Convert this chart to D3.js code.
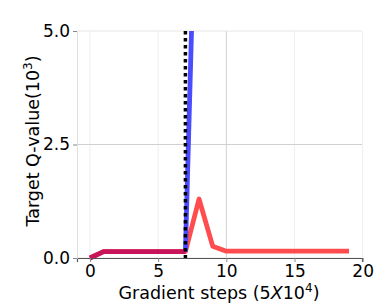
<!DOCTYPE html>
<html><head><meta charset="utf-8">
<script src="https://cdn.jsdelivr.net/npm/d3@7"></script>
<style>body{margin:0;background:#fff;}text{font-family:"DejaVu Sans",sans-serif;}</style>
</head><body><svg id="c" width="382" height="304"></svg>
<script>
const steps = d3.range(0, 20);
const redValues = [0, 0.14, 0.14, 0.14, 0.14, 0.14, 0.14, 0.14, 1.30, 0.26, 0.15, 0.15, 0.15, 0.15, 0.15, 0.15, 0.15, 0.15, 0.15, 0.15];
const blueSteps = [7, 8];
const blueValues = [0.14, 11];
const sharedSteps = [0, 1, 2, 3, 4, 5, 6, 7];
const sharedValues = [0, 0.14, 0.14, 0.14, 0.14, 0.14, 0.14, 0.14];
const divergeStep = 7;
const xTicks = [0, 5, 10, 15, 20];
const yTicks = [0, 2.5, 5];

const svg = d3.select("#c");
const L = 77, R = 362, T = 31, B = 258;
const x = d3.scaleLinear().domain([-0.95, 19.95]).range([L, R]);
const y = d3.scaleLinear().domain([0, 5]).range([B, T]);

// grid
const g = svg.append("g");
g.selectAll(".vx").data(xTicks).enter().append("line")
  .attr("x1", d => x(d)).attr("x2", d => x(d)).attr("y1", T).attr("y2", B)
  .attr("stroke", d => d === 10 ? "#d0d0d0" : "#efefef").attr("stroke-width", 1);
g.selectAll(".hy").data(yTicks).enter().append("line")
  .attr("x1", L).attr("x2", R).attr("y1", d => y(d)).attr("y2", d => y(d))
  .attr("stroke", d => d === 2.5 ? "#d0d0d0" : "#e6e6e6").attr("stroke-width", 1);

svg.append("defs").append("clipPath").attr("id", "clip")
  .append("rect").attr("x", L).attr("y", T).attr("width", R - L).attr("height", B - T + 4);
const plot = svg.append("g").attr("clip-path", "url(#clip)");

const line = d3.line().x(d => x(d[0])).y(d => y(d[1]));
plot.append("path").datum(steps.map((s, i) => [s, redValues[i]]))
  .attr("d", line).attr("fill", "none").attr("stroke", "#ff4d4f").attr("stroke-width", 4.8).attr("stroke-linejoin", "round");
plot.append("path").datum(blueSteps.map((s, i) => [s, blueValues[i]]))
  .attr("d", line).attr("fill", "none").attr("stroke", "#4b4bff").attr("stroke-width", 4.8);
plot.append("path").datum(sharedSteps.map((s, i) => [s, sharedValues[i]]))
  .attr("d", line).attr("fill", "none").attr("stroke", "#c8145a").attr("stroke-width", 4.8).attr("stroke-linejoin", "round");

svg.append("line").attr("x1", x(divergeStep)).attr("x2", x(divergeStep)).attr("y1", T).attr("y2", B + 3)
  .attr("stroke", "#000").attr("stroke-width", 3.5).attr("stroke-dasharray", "3.5,3.5");

// axes
const xa = svg.append("g").attr("transform", `translate(0,${B})`)
  .call(d3.axisBottom(x).tickValues(xTicks).tickSize(4).tickPadding(3).tickFormat(d3.format("d")));
const ya = svg.append("g").attr("transform", `translate(${L},0)`)
  .call(d3.axisLeft(y).tickValues(yTicks).tickSize(4).tickPadding(3).tickFormat(d3.format(".1f")));
[xa, ya].forEach(a => {
  a.selectAll("text").attr("font-size", 17).attr("fill", "#000").attr("font-family", "DejaVu Sans");
  a.selectAll(".tick line").attr("stroke", "#888");
});
xa.select(".domain").attr("stroke", "#555").attr("stroke-width", 1.2);
ya.select(".domain").attr("stroke", "#e0e0e0");

const xl = svg.append("text").attr("x", 219).attr("y", 299).attr("text-anchor", "middle").attr("font-size", 17.5);
xl.append("tspan").text("Gradient steps (5");
xl.append("tspan").attr("font-style", "italic").text("X");
xl.append("tspan").text("10");
xl.append("tspan").attr("dy", -7).attr("font-size", 12).text("4");
xl.append("tspan").attr("dy", 7).text(")");

const yl = svg.append("text").attr("transform", `translate(39,141) rotate(-90)`).attr("text-anchor", "middle").attr("font-size", 17.5);
yl.append("tspan").text("Target Q-value(10");
yl.append("tspan").attr("dy", -7).attr("font-size", 12).text("3");
yl.append("tspan").attr("dy", 7).text(")");
</script></body></html>
